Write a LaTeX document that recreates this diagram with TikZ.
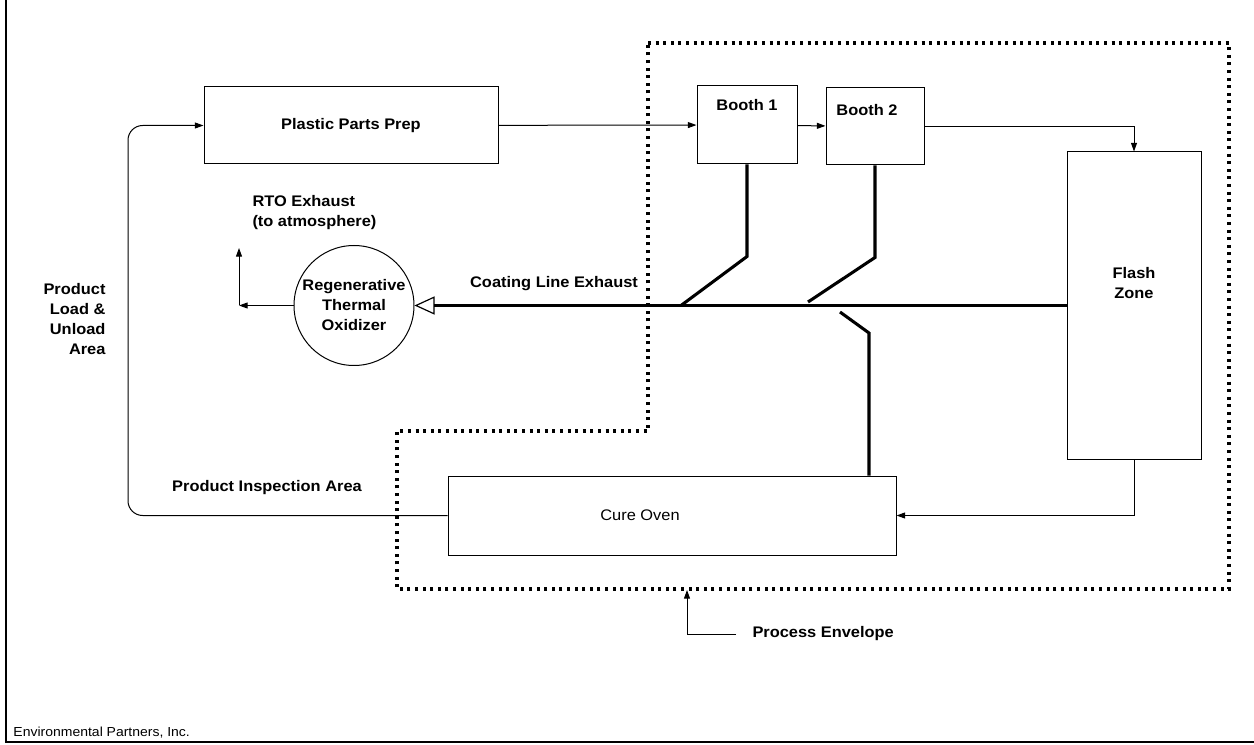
\documentclass[tikz,border=0pt]{standalone}
\usepackage{fontspec}
\setsansfont[FakeStretch=1.07]{Liberation Sans}
\usetikzlibrary{arrows.meta}

\begin{document}
\begin{tikzpicture}[x=0.75pt,y=-0.75pt,line width=0.75pt,
  >={Triangle[length=6.5pt,width=4.5pt]},
  lbl/.style={font=\sffamily\bfseries\fontsize{11.5}{15}\selectfont,inner sep=0pt},
  plain/.style={font=\sffamily\fontsize{11.5}{15}\selectfont,inner sep=0pt},
  unit/.style={draw,rectangle,inner sep=0pt,lbl},
  duct/.style={line width=2.3pt},
  flow/.style={->},
  envelope/.style={line width=2.3pt,dash pattern=on 2.3pt off 3.4pt}]

  \useasboundingbox (0,0) rectangle (1254,745);
  \draw[line width=1.2pt] (6,0) -- (6,742) -- (1254,742);

  % process units (sizes in pt)
  \node[unit,minimum width=220.5pt,minimum height=57.75pt] (prep) at (351,125.5) {Plastic Parts Prep};
  \node[unit,minimum width=75pt,minimum height=58.5pt,
    label={[lbl,below=10pt]north:Booth 1}] (booth1) at (747,125) {};
  \node[unit,minimum width=73.5pt,minimum height=57.75pt,
    label={[lbl,below=12pt,xshift=-6pt]north:Booth 2}] (booth2) at (875,126.5) {};
  \node[unit,minimum width=100.5pt,minimum height=230.25pt,
    label={[lbl,align=center,yshift=16.5pt]center:Flash\\Zone}] (flash) at (1134,305.5) {};
  \node[unit,minimum width=336pt,minimum height=59.25pt,
    label={[plain,xshift=-24pt]center:Cure Oven}] (oven) at (672,515.5) {};
  \node[draw,circle,minimum size=90pt,inner sep=0pt,lbl,align=center] (rto) at (354,305.5)
    {Regenerative\\Thermal\\Oxidizer};

  % process envelope
  \draw[envelope] (648,43) -- (1229,43) -- (1229,589) -- (397,589) -- (397,431)
    -- (648,431) -- cycle;

  % product flow
  \coordinate (turn) at (128,515.5);
  \draw[flow] (prep) -- (booth1);
  \draw[flow] (booth1) -- (booth2);
  \draw[flow] (booth2.east) -| (flash.north);
  \draw[flow] (flash.south) |- (oven.east);
  \draw[flow,rounded corners=11pt] (oven.west) -- (turn) |- (prep.west);

  % exhaust ducts
  \coordinate (j1) at (681,305.5);
  \coordinate (j2) at (808,302);
  \coordinate (k3) at (869,333);
  \coordinate (j3) at (840,312);
  \draw[duct,-{Triangle[open,length=15pt,width=13.5pt,line width=0.9pt]}]
    (flash.west) -- (rto.east);
  \draw[duct] (booth1.south) -- ++(0,92) -- (j1);
  \draw[duct] (booth2.south) -- ++(0,92) -- (j2);
  \draw[duct] (k3 |- oven.north) -- (k3) -- (j3);

  % stack
  \coordinate (vent) at (239,305.5);
  \coordinate (stack) at (239,248);
  \draw[flow] (rto.west) -- (vent);
  \draw[flow] (vent) -- (stack);

  % labels
  \node[lbl,align=left,anchor=west] (rtolbl) at (252,213) {RTO Exhaust\\(to atmosphere)};
  \node[lbl,anchor=center] (exhlbl) at (554,284) {Coating Line Exhaust};
  \node[lbl,align=right,anchor=east] (loadlbl) at (106,319) {Product\\Load \&\\Unload\\Area};
  \node[lbl] (inslbl) at (267,488) {Product Inspection Area};
  \node[lbl,anchor=west] (envlbl) at (752,634) {Process Envelope};
  \coordinate (envtip) at (687,590);
  \draw[flow] ([xshift=-12pt]envlbl.west) -| (envtip);
  \node[plain,anchor=west,font=\sffamily\fontsize{9.8}{12}\selectfont] (firm) at (13,733)
    {Environmental Partners, Inc.};
\end{tikzpicture}
\end{document}
